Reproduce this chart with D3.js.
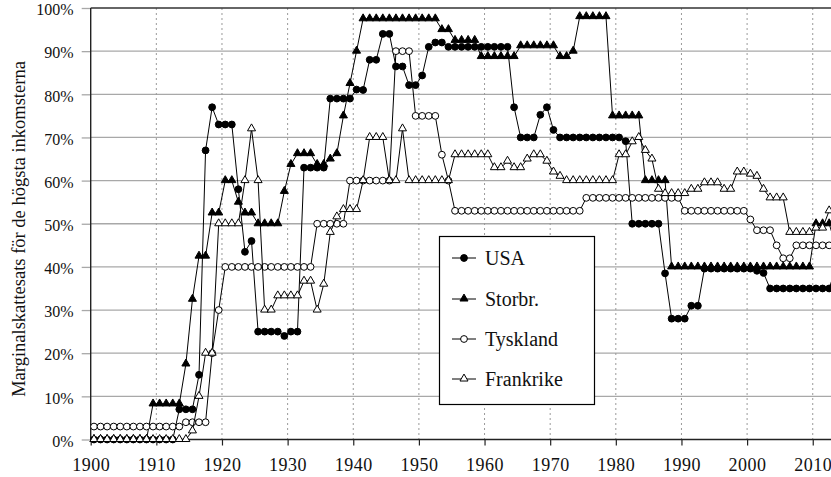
<!DOCTYPE html>
<html>
<head>
<meta charset="utf-8">
<script src="https://cdn.jsdelivr.net/npm/d3@7"></script>
<style>
body { margin: 0; background: #fff; }
svg { display: block; }
svg text { font-family: "Liberation Serif", "DejaVu Serif", "Times New Roman", Times, serif !important; }
</style>
</head>
<body>
<script>
// årlig toppmarginalskatt, 1900-2013 (en rad per decennium)
var startYear = 1900;
var endYear = 2013;

var usa = [
    0, 0, 0, 0, 0, 0, 0, 0, 0, 0,
    0, 0, 0, 7, 7, 7, 15, 67, 77, 73,
    73, 73, 58, 43.5, 46, 25, 25, 25, 25, 24,
    25, 25, 63, 63, 63, 63, 79, 79, 79, 79,
    81.1, 81, 88, 88, 94, 94, 86.45, 86.45, 82.13, 82.13,
    84.36, 91, 92, 92, 91, 91, 91, 91, 91, 91,
    91, 91, 91, 91, 77, 70, 70, 70, 75.25, 77,
    71.75, 70, 70, 70, 70, 70, 70, 70, 70, 70,
    70, 69.13, 50, 50, 50, 50, 50, 38.5, 28, 28,
    28, 31, 31, 39.6, 39.6, 39.6, 39.6, 39.6, 39.6, 39.6,
    39.6, 39.1, 38.6, 35, 35, 35, 35, 35, 35, 35,
    35, 35, 35, 39.6
];

var storbr = [
    0, 0, 0, 0, 0, 0, 0, 0, 0, 8.25,
    8.25, 8.25, 8.25, 8.25, 17.5, 32.5, 42.5, 42.5, 52.5, 52.5,
    60, 60, 55, 52.5, 52.5, 50, 50, 50, 50, 57.5,
    63.75, 66.25, 66.25, 66.25, 63.75, 63.75, 65, 66.25, 75, 82.5,
    90, 97.5, 97.5, 97.5, 97.5, 97.5, 97.5, 97.5, 97.5, 97.5,
    97.5, 97.5, 97.5, 95, 95, 92.5, 92.5, 92.5, 92.5, 88.75,
    88.75, 88.75, 88.75, 88.75, 88.75, 91.25, 91.25, 91.25, 91.25, 91.25,
    91.25, 88.75, 88.75, 90, 98, 98, 98, 98, 98, 75,
    75, 75, 75, 75, 60, 60, 60, 60, 40, 40,
    40, 40, 40, 40, 40, 40, 40, 40, 40, 40,
    40, 40, 40, 40, 40, 40, 40, 40, 40, 40,
    50, 50, 50, 45
];

var tyskland = [
    3, 3, 3, 3, 3, 3, 3, 3, 3, 3,
    3, 3, 3, 3, 4, 4, 4, 4, 20, 30,
    40, 40, 40, 40, 40, 40, 40, 40, 40, 40,
    40, 40, 40, 40, 50, 50, 50, 50, 50, 60,
    60, 60, 60, 60, 60, 60, 90, 90, 90, 75,
    75, 75, 75, 66, 60, 53, 53, 53, 53, 53,
    53, 53, 53, 53, 53, 53, 53, 53, 53, 53,
    53, 53, 53, 53, 53, 56, 56, 56, 56, 56,
    56, 56, 56, 56, 56, 56, 56, 56, 56, 56,
    53, 53, 53, 53, 53, 53, 53, 53, 53, 53,
    51, 48.5, 48.5, 48.5, 45, 42, 42, 45, 45, 45,
    45, 45, 45, 45
];

var frankrike = [
    0, 0, 0, 0, 0, 0, 0, 0, 0, 0,
    0, 0, 0, 0, 0, 2, 10, 20, 20, 50,
    50, 50, 50, 60, 72, 60, 30, 30, 33.3, 33.3,
    33.3, 33.3, 36.7, 36.7, 30, 36, 48, 51.6, 53.3, 53.3,
    53.3, 60, 70, 70, 70, 60, 60, 72, 60, 60,
    60, 60, 60, 60, 60, 66, 66, 66, 66, 66,
    66, 63, 63, 64.5, 63, 63, 65, 66, 66, 64.5,
    62, 61, 60, 60, 60, 60, 60, 60, 60, 60,
    66, 66, 69, 70, 67, 65, 58, 57, 57, 57,
    57, 58, 58, 59.5, 59.5, 59.5, 58, 58, 62, 62,
    61.5, 61, 58, 56, 56, 56, 48, 48, 48, 48,
    49, 49, 53, 53
];

var seriesNames = ["USA", "Storbr.", "Tyskland", "Frankrike"];
var tickYears = [1900, 1910, 1920, 1930, 1940, 1950, 1960, 1970, 1980, 1990, 2000, 2010];
var tickPercents = [0, 10, 20, 30, 40, 50, 60, 70, 80, 90, 100];
var yTitle = "Marginalskattesats för de högsta inkomsterna";

var width = 831, height = 477;
var serif = "'Liberation Serif', 'DejaVu Serif', 'Times New Roman', serif";
var years = d3.range(startYear, endYear + 1);

var x = d3.scaleLinear().domain([startYear, endYear + 1]).range([90.7, 839]);
var y = d3.scaleLinear().domain([0, 100]).range([439.5, 8]);

var svg = d3.select("body").append("svg")
    .attr("width", width)
    .attr("height", height)
    .attr("font-family", serif);

// horisontella rutnätslinjer
svg.append("g").selectAll("line")
    .data(tickPercents.filter(function(d) { return d > 0 && d < 100; }))
    .enter().append("line")
    .attr("x1", x(startYear)).attr("x2", x(endYear + 1))
    .attr("y1", function(d) { return y(d); })
    .attr("y2", function(d) { return y(d); })
    .attr("stroke", "#a8a8a8")
    .attr("stroke-width", 1.3);

// vertikala prickade linjer
svg.append("g").selectAll("line")
    .data(tickYears.slice(1))
    .enter().append("line")
    .attr("x1", function(d) { return x(d); })
    .attr("x2", function(d) { return x(d); })
    .attr("y1", y(100)).attr("y2", y(0))
    .attr("stroke", "#9a9a9a")
    .attr("stroke-width", 1)
    .attr("stroke-dasharray", "2,3");

// y-axel
var yAxis = svg.append("g")
    .attr("transform", "translate(" + x(startYear) + ",0)")
    .call(d3.axisLeft(y).tickValues(tickPercents).tickSize(9).tickPadding(8)
        .tickFormat(function(d) { return d + "%"; }));
yAxis.attr("font-family", serif).attr("font-size", 16);
yAxis.select(".domain").remove();
yAxis.selectAll(".tick line").attr("stroke", "#a8a8a8").attr("stroke-width", 1.3);
yAxis.selectAll(".tick text")
    .style("font-family", serif)
    .style("font-size", "16px")
    .attr("fill", "#111")
    .attr("dy", "0.42em");

// x-axel
var xAxis = svg.append("g")
    .attr("transform", "translate(0," + y(0) + ")")
    .call(d3.axisBottom(x).tickValues(tickYears).tickSize(6).tickPadding(13)
        .tickFormat(d3.format("d")));
xAxis.attr("font-family", serif).attr("font-size", 18);
xAxis.select(".domain").remove();
xAxis.selectAll(".tick line").attr("stroke", "#222").attr("stroke-width", 1.2);
xAxis.selectAll(".tick text")
    .style("font-family", serif)
    .style("font-size", "18px")
    .style("letter-spacing", "0.5px")
    .attr("fill", "#111");

// ram
svg.append("line")
    .attr("x1", x(startYear)).attr("x2", x(endYear + 1))
    .attr("y1", y(100)).attr("y2", y(100))
    .attr("stroke", "#333").attr("stroke-width", 1.4);
svg.append("line")
    .attr("x1", x(startYear)).attr("x2", x(endYear + 1))
    .attr("y1", y(0)).attr("y2", y(0))
    .attr("stroke", "#222").attr("stroke-width", 1.4);
svg.append("line")
    .attr("x1", x(startYear)).attr("x2", x(startYear))
    .attr("y1", y(100)).attr("y2", y(0))
    .attr("stroke", "#222").attr("stroke-width", 1.4);

// y-titel
svg.append("text")
    .attr("transform", "translate(25," + 229 + ") rotate(-90)")
    .attr("text-anchor", "middle")
    .style("font-family", serif)
    .style("font-size", "18.5px")
    .attr("fill", "#111")
    .text(yTitle);

var triangle = d3.symbol().type(d3.symbolTriangle).size(28);

function drawMarker(g, kind, cx, cy) {
    if (kind === "dot" || kind === "ring") {
        g.append("circle")
            .attr("cx", cx).attr("cy", cy).attr("r", 3.4)
            .attr("fill", kind === "dot" ? "#000" : "#fff")
            .attr("stroke", "#000").attr("stroke-width", 1);
    } else {
        g.append("path")
            .attr("d", triangle())
            .attr("transform", "translate(" + cx + "," + (cy - 0.3) + ")")
            .attr("fill", kind === "tri" ? "#000" : "#fff")
            .attr("stroke", "#000").attr("stroke-width", 1);
    }
}

var series = [
    { name: seriesNames[0], values: usa, kind: "dot" },
    { name: seriesNames[1], values: storbr, kind: "tri" },
    { name: seriesNames[2], values: tyskland, kind: "ring" },
    { name: seriesNames[3], values: frankrike, kind: "otri" }
];

var line = d3.line()
    .x(function(d, i) { return x(years[i] + 0.5); })
    .y(function(d) { return y(d); });

series.forEach(function(s) {
    var g = svg.append("g").attr("class", "series");
    g.append("path")
        .attr("d", line(s.values))
        .attr("fill", "none")
        .attr("stroke", "#000")
        .attr("stroke-width", 1);
    s.values.forEach(function(v, i) {
        drawMarker(g, s.kind, x(years[i] + 0.5), y(v));
    });
});

// legend
var legend = svg.append("g");
legend.append("rect")
    .attr("x", 439.5).attr("y", 236.5)
    .attr("width", 155).attr("height", 168)
    .attr("fill", "#fff")
    .attr("stroke", "#000").attr("stroke-width", 1.2);

var legendY = [258, 299, 339, 379];
series.forEach(function(s, i) {
    var ly = legendY[i];
    legend.append("line")
        .attr("x1", 452).attr("x2", 476)
        .attr("y1", ly).attr("y2", ly)
        .attr("stroke", "#000").attr("stroke-width", 1);
    drawMarker(legend, s.kind, 464, ly);
    legend.append("text")
        .attr("x", 485).attr("y", ly)
        .attr("dy", "0.35em")
        .style("font-family", serif)
        .style("font-size", "20px")
        .attr("fill", "#111")
        .text(s.name);
});
</script>
</body>
</html>
